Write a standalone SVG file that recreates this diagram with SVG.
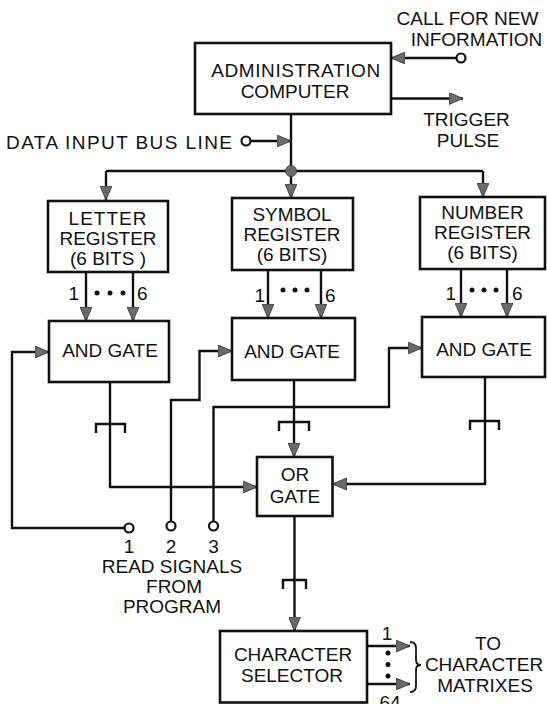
<svg xmlns="http://www.w3.org/2000/svg" width="547" height="704" viewBox="0 0 547 704">
<style>
.box{fill:#fff;stroke:#111;stroke-width:2.6}
.ln{fill:none;stroke:#111;stroke-width:2.4}
.arr{marker-end:url(#ah)}
.t{font-family:"Liberation Sans",Arial,sans-serif;font-size:19px;fill:#111;text-anchor:middle}
.s{text-anchor:start}
.e{text-anchor:end}
.term{fill:#fff;stroke:#111;stroke-width:2.2}
.dot{fill:#111}
</style>
<defs>
<marker id="ah" markerUnits="userSpaceOnUse" markerWidth="14" markerHeight="12" refX="14" refY="6" orient="auto">
<path d="M0,0 L14,6 L0,12 z" fill="#6a6a6a" stroke="#333" stroke-width="0.8"/>
</marker>
</defs>
<rect width="547" height="704" fill="#fff"/>

<g id="connectors">
<path class="ln arr" d="M456.5,58 L391,58"/>
<circle class="term" cx="461" cy="58" r="4.5"/>
<path class="ln arr" d="M391,98.5 L463,98.5"/>
<path class="ln" d="M291,114 L291,171"/>
<path class="ln arr" d="M250.5,141 L291,141"/>
<circle class="term" cx="246" cy="141" r="4.5"/>
<path class="ln" d="M106,171 L483,171"/>
<path class="ln arr" d="M106,171 L106,200"/>
<path class="ln arr" d="M291,171 L291,198"/>
<path class="ln arr" d="M483,171 L483,197"/>
<circle cx="291" cy="171" r="5.5" fill="#6a6a6a" stroke="#333" stroke-width="0.8"/>
<path class="ln arr" d="M86,272 L86,321"/>
<path class="ln arr" d="M133,272 L133,321"/>
<path class="ln arr" d="M268,270 L268,318"/>
<path class="ln arr" d="M321,270 L321,318"/>
<path class="ln arr" d="M461,269 L461,317"/>
<path class="ln arr" d="M507,269 L507,317"/>
<path class="ln arr" d="M124.5,528 L12,528 L12,352 L49,352"/>
<circle class="term" cx="129" cy="528" r="4.5"/>
<path class="ln arr" d="M171,521.5 L171,400 L199.5,400 L199.5,351 L232,351"/>
<circle class="term" cx="171" cy="526" r="4.5"/>
<path class="ln arr" d="M213.5,521.5 L213.5,407 L389,407 L389,348 L422,348"/>
<circle class="term" cx="213.5" cy="526" r="4.5"/>
<path class="ln arr" d="M110,382 L110,487 L257,487"/>
<path class="ln" d="M96,433 L96,424 L125,424 L125,433"/>
<path class="ln arr" d="M294,380 L294,457"/>
<path class="ln" d="M279,431 L279,422 L309,422 L309,431"/>
<path class="ln arr" d="M485,377 L485,484 L332.5,484"/>
<path class="ln" d="M470,430 L470,421 L499,421 L499,430"/>
<path class="ln arr" d="M294.5,516 L294.5,631"/>
<path class="ln" d="M283,589 L283,580 L306,580 L306,589"/>
<path class="ln arr" d="M367,646 L410,646"/>
<path class="ln arr" d="M367,684 L410,684"/>
<circle class="dot" cx="388" cy="653" r="2.5"/>
<circle class="dot" cx="388" cy="664.5" r="2.5"/>
<circle class="dot" cx="388" cy="676" r="2.5"/>
<path d="M410,642 Q416,642 416,648 L416,660 Q416,665 421,665 Q416,665 416,670 L416,686 Q416,692 410,692" fill="none" stroke="#111" stroke-width="1.8"/>
</g>

<g id="admin">
<rect class="box" x="195" y="43" width="196" height="71"/>
<text class="t" x="296" y="77" letter-spacing="0.6">ADMINISTRATION</text>
<text class="t" x="295" y="98">COMPUTER</text>
</g>

<g id="call-label">
<text class="t" x="467.5" y="25">CALL FOR NEW</text>
<text class="t" x="476.5" y="46">INFORMATION</text>
</g>

<g id="trigger-label">
<text class="t" x="466.5" y="126">TRIGGER</text>
<text class="t" x="468" y="147">PULSE</text>
</g>

<g id="data-input-label">
<text class="t s" x="6" y="148.5" textLength="226" lengthAdjust="spacing">DATA INPUT BUS LINE</text>
</g>

<g id="letter-register">
<rect class="box" x="48" y="201" width="120" height="71"/>
<text class="t" x="108" y="225" letter-spacing="1">LETTER</text>
<text class="t" x="108" y="245">REGISTER</text>
<text class="t" x="108" y="265">(6 BITS )</text>
<text class="t e" x="79" y="300">1</text>
<text class="t s" x="137" y="300">6</text>
<circle class="dot" cx="97" cy="293" r="2.5"/>
<circle class="dot" cx="110" cy="293" r="2.5"/>
<circle class="dot" cx="123" cy="293" r="2.5"/>
</g>

<g id="symbol-register">
<rect class="box" x="232" y="198" width="121" height="72"/>
<text class="t" x="292" y="221">SYMBOL</text>
<text class="t" x="292" y="241">REGISTER</text>
<text class="t" x="292" y="261">(6 BITS)</text>
<text class="t e" x="265" y="301.5">1</text>
<text class="t s" x="325" y="301.5">6</text>
<circle class="dot" cx="283" cy="290" r="2.5"/>
<circle class="dot" cx="295" cy="290" r="2.5"/>
<circle class="dot" cx="307" cy="290" r="2.5"/>
</g>

<g id="number-register">
<rect class="box" x="420" y="197" width="125" height="72"/>
<text class="t" x="482.5" y="219">NUMBER</text>
<text class="t" x="482.5" y="239">REGISTER</text>
<text class="t" x="482.5" y="259">(6 BITS)</text>
<text class="t e" x="456" y="300">1</text>
<text class="t s" x="512" y="300">6</text>
<circle class="dot" cx="472" cy="290" r="2.5"/>
<circle class="dot" cx="484" cy="290" r="2.5"/>
<circle class="dot" cx="496" cy="290" r="2.5"/>
</g>

<g id="letter-and">
<rect class="box" x="49" y="321" width="120" height="61"/>
<text class="t" x="110" y="357">AND GATE</text>
</g>

<g id="symbol-and">
<rect class="box" x="232" y="318" width="123" height="62"/>
<text class="t" x="292" y="358">AND GATE</text>
</g>

<g id="number-and">
<rect class="box" x="422" y="317" width="123" height="60"/>
<text class="t" x="484" y="356">AND GATE</text>
</g>

<g id="or-gate">
<rect class="box" x="257" y="457" width="75.5" height="59"/>
<text class="t" x="295" y="481">OR</text>
<text class="t" x="295" y="503">GATE</text>
</g>

<g id="read-signals">
<text class="t" x="129" y="553">1</text>
<text class="t" x="171" y="553">2</text>
<text class="t" x="213.5" y="553">3</text>
<text class="t" x="172" y="573">READ SIGNALS</text>
<text class="t" x="174" y="593">FROM</text>
<text class="t" x="172" y="613">PROGRAM</text>
</g>

<g id="character-selector">
<rect class="box" x="220" y="631" width="147" height="71.5"/>
<text class="t" x="293" y="661">CHARACTER</text>
<text class="t" x="292" y="682">SELECTOR</text>
<text class="t" x="387" y="640">1</text>
<text class="t" x="390" y="709">64</text>
</g>

<g id="matrixes-label">
<text class="t" x="488" y="650">TO</text>
<text class="t" x="484" y="671">CHARACTER</text>
<text class="t" x="485" y="692">MATRIXES</text>
</g>
</svg>
